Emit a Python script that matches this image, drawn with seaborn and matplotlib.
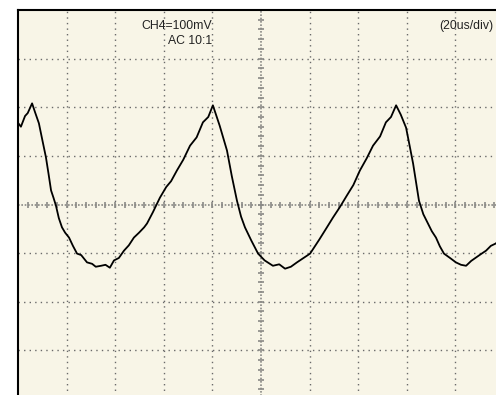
import numpy as np
import pandas as pd
import matplotlib
matplotlib.use("Agg")
import matplotlib.pyplot as plt
import seaborn as sns

# time (us) and voltage (mV)
time_us = [0.0, 1.2, 2.9, 4.0, 5.8, 7.0, 8.6, 10.0, 11.5, 12.6, 13.6, 14.6, 15.6, 16.8, 18.1, 19.4, 21.0,
           22.6, 24.3, 26.0, 28.4, 30.5, 32.0, 34.2, 36.0, 37.8, 39.5, 41.5, 43.6, 45.6, 47.7, 49.8, 51.9,
           53.1, 55.5, 58.4, 61.0, 63.0, 65.4, 68.0, 70.8, 73.5, 76.1, 78.3, 80.2, 83.0, 86.0, 88.0, 90.1,
           91.8, 93.4, 96.0, 98.8, 101.5, 104.9, 107.5, 109.9, 112.3, 114.8, 117.5, 120.2, 124.0, 127.0,
           129.6, 132.5, 135.4, 138.0, 140.7, 143.5, 146.1, 149.0, 151.4, 153.5, 155.6, 157.5, 159.7,
           161.2, 162.6, 165.0, 166.8, 168.7, 170.3, 172.0, 173.6, 175.3, 177.8, 180.2, 182.3, 184.4,
           186.5, 188.5, 190.5, 192.6, 194.6, 196.7, 200.0]
volt_mV = [168, 160, 182, 188, 208, 190, 167, 133, 97, 62, 29, 14, -2, -28, -47, -58, -68,
           -85, -101, -104, -119, -122, -128, -126, -124, -130, -115, -110, -95, -84, -68, -58, -47,
           -39, -16, 14, 36, 48, 70, 92, 121, 138, 169, 180, 204, 162, 111, 58, 8,
           -25, -47, -74, -101, -115, -126, -123, -132, -128, -119, -110, -101, -72, -48,
           -27, -5, 19, 40, 70, 95, 121, 140, 169, 180, 204, 185, 158,
           120, 84, 8, -20, -39, -55, -68, -86, -101, -110, -119, -124, -126,
           -116, -109, -102, -95, -85, -80, -60]

xmin, xmax, xdiv = 0, 200, 20
ymin, ymax, ydiv = -400, 400, 100

df = pd.DataFrame({"t": time_us, "v": volt_mV})

fig = plt.figure(figsize=(4.96, 3.95), dpi=100)
fig.patch.set_facecolor("white")
ax = fig.add_axes([18/496, 1 - 399/395, 486/496, 389/395])
ax.set_facecolor("#F8F5E7")
ax.set_xlim(xmin, xmax)
ax.set_ylim(ymin, ymax)

grid_col = "#6a6a6a"
for gx in np.arange(xmin + xdiv, xmax, xdiv):
    if gx == (xmin + xmax) / 2:
        continue
    ax.axvline(gx, color=grid_col, lw=1.0, ls=(0, (1, 3)), zorder=1)
for gy in np.arange(ymin + ydiv, ymax, ydiv):
    if gy == 0:
        continue
    ax.axhline(gy, color=grid_col, lw=1.0, ls=(0, (1, 3)), zorder=1)

# centre cross with minor ticks
cx = (xmin + xmax) / 2
ax.axhline(0, color="#8a8a86", lw=1.2, ls=(0, (1, 1)), zorder=1)
ax.axvline(cx, color="#8a8a86", lw=1.2, ls=(0, (1, 1)), zorder=1)
mx = np.arange(xmin, xmax + 0.01, xdiv / 5)
my = np.arange(ymin, ymax + 0.01, ydiv / 5)
ax.plot(mx, np.zeros_like(mx), ls="none", marker="|", ms=4.5, mew=1.2, color="#8a8a86", zorder=1)
ax.plot(np.full_like(my, cx), my, ls="none", marker="_", ms=4.5, mew=1.2, color="#8a8a86", zorder=1)

sns.lineplot(data=df, x="t", y="v", ax=ax, color="black", lw=1.3, zorder=3, legend=False)

ax.set_xticks([])
ax.set_yticks([])
ax.set_xlabel("")
ax.set_ylabel("")
for s in ["left", "top"]:
    ax.spines[s].set_linewidth(1.5)
    ax.spines[s].set_color("black")
for s in ["right", "bottom"]:
    ax.spines[s].set_visible(False)

font = dict(family=["Liberation Sans", "DejaVu Sans"], fontsize=8.8, color="#222222")
ax.text(80, 368, "CH4=100mV", ha="right", va="center", **font)
ax.text(80, 337, "AC 10:1", ha="right", va="center", **font)
ax.text(195.5, 368, "(20us/div)", ha="right", va="center", **font)

fig.savefig("out.png", dpi=100)
